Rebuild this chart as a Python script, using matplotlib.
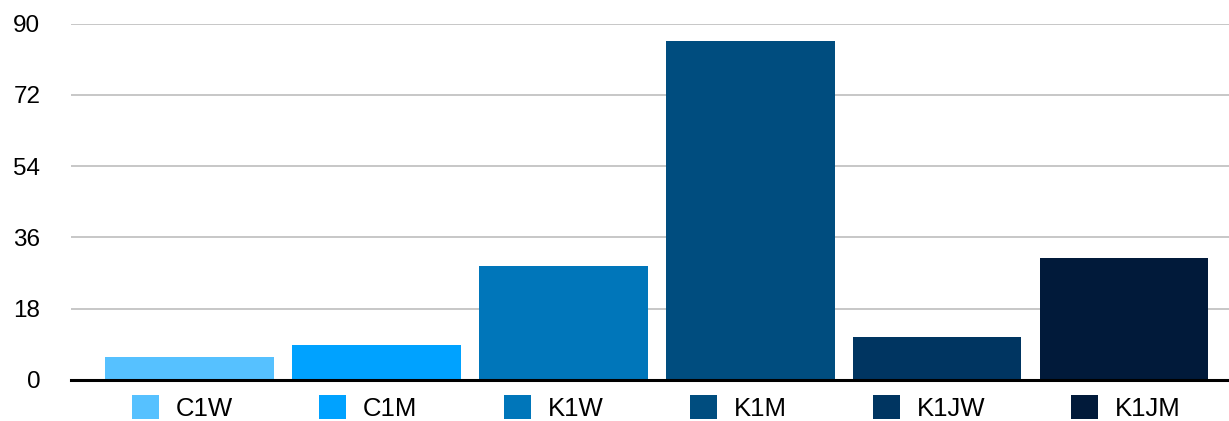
import numpy as np
import matplotlib.pyplot as plt

plt.rcParams['font.family'] = ['Liberation Sans', 'DejaVu Sans']

# data
categories = ['C1W', 'C1M', 'K1W', 'K1M', 'K1JW', 'K1JM']
values = [5.7, 8.9, 28.7, 85.6, 10.9, 30.7]
colors = ['#56C1FF', '#00A2FF', '#0076BA', '#004D7F', '#003561', '#011A3A']
yticks = [0, 18, 36, 54, 72, 90]

W, H = 1229, 421
fig = plt.figure(figsize=(W / 100, H / 100), dpi=100)
ax = fig.add_axes([71 / W, 1 - 380 / H, 1 - 71 / W, 356.5 / H])

x = np.arange(len(categories))
bars = ax.bar(x, values, width=0.9, color=colors, zorder=3)

ax.set_xlim(-0.634, 5.56)
ax.set_ylim(0, 90)
ax.set_yticks(yticks)
ax.set_xticks([])
ax.tick_params(axis='y', length=0, pad=22, labelsize=17.5)
ax.yaxis.grid(True, color='#bdbdbd', linewidth=1.2, zorder=0)

for s in ['top', 'right', 'left']:
    ax.spines[s].set_visible(False)
ax.spines['bottom'].set_color('black')
ax.spines['bottom'].set_linewidth(2.2)
ax.spines['bottom'].set_zorder(4)

# legend spread along the bottom
fig.legend(handles=bars, labels=categories, loc='center', ncol=6, mode='expand',
           bbox_to_anchor=(132 / W, 1 - 408 / H, (1181 - 132) / W, 0),
           frameon=False, fontsize=18.5, handlelength=1.05, handleheight=1.05,
           handletextpad=0.66, borderpad=0, borderaxespad=0)

fig.savefig('out.png', dpi=100)
